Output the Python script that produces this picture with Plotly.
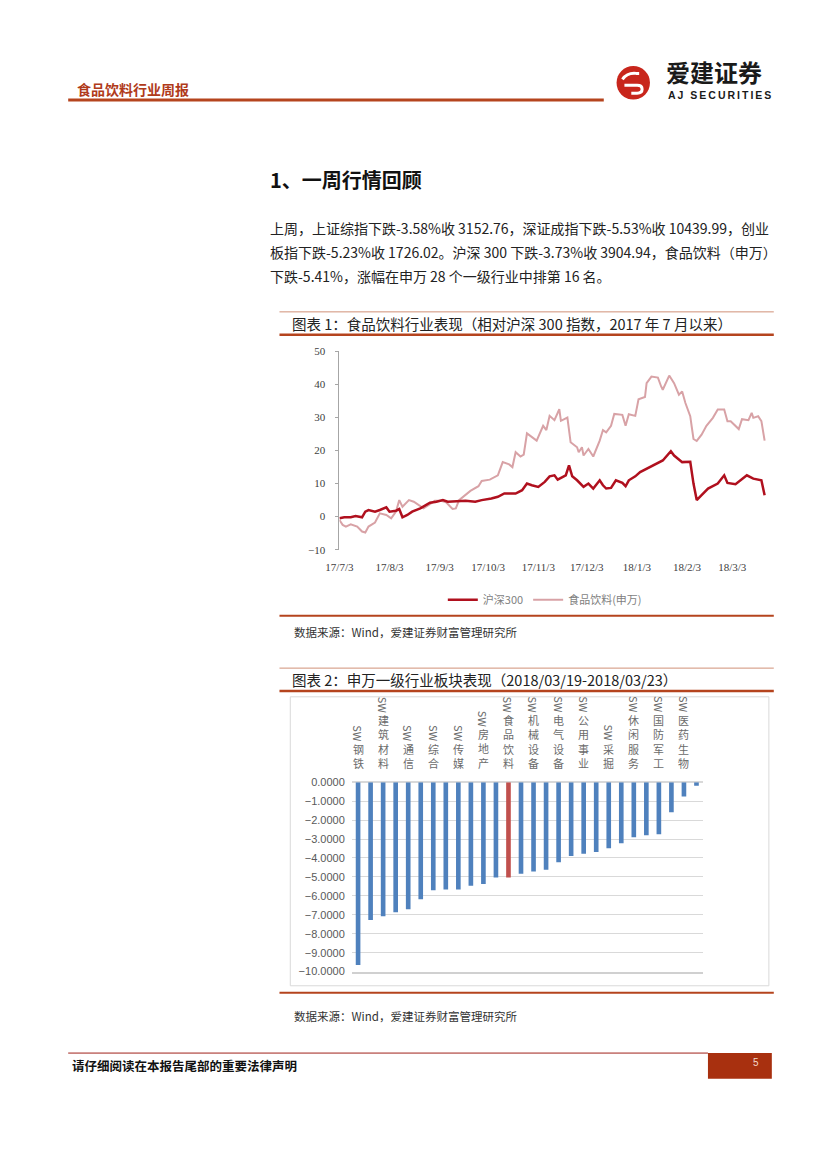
import plotly.graph_objects as go

# ---------------- data ----------------
# Chart 1: relative performance since 2017-07
hs300_dates = ["2017-07-03","2017-07-06","2017-07-10","2017-07-13","2017-07-17","2017-07-19","2017-07-21",
               "2017-07-25","2017-07-28","2017-08-01","2017-08-03","2017-08-07","2017-08-09","2017-08-11",
               "2017-08-14","2017-08-17","2017-08-22","2017-08-28","2017-09-01","2017-09-05","2017-09-08",
               "2017-09-13","2017-09-19","2017-09-25","2017-09-29","2017-10-05","2017-10-09","2017-10-13",
               "2017-10-17","2017-10-20","2017-10-24","2017-10-27","2017-10-30","2017-11-03","2017-11-07",
               "2017-11-10","2017-11-13","2017-11-15","2017-11-20","2017-11-22","2017-11-24","2017-11-27",
               "2017-12-01","2017-12-04","2017-12-07","2017-12-11","2017-12-13","2017-12-15","2017-12-18",
               "2017-12-21","2017-12-25","2017-12-27","2017-12-29","2018-01-02","2018-01-05","2018-01-09",
               "2018-01-12","2018-01-19","2018-01-24","2018-01-26","2018-01-31","2018-02-05","2018-02-07",
               "2018-02-09","2018-02-12","2018-02-16","2018-02-22","2018-02-26","2018-02-28","2018-03-05",
               "2018-03-12","2018-03-16","2018-03-21","2018-03-23"]
hs300_values = [-0.5,-0.2,-0.2,0.2,-0.2,1.5,2.0,
                1.5,2.0,2.8,1.5,1.8,2.3,-0.2,
                0.5,1.5,2.5,4.2,4.5,5.0,4.5,
                4.6,4.8,4.5,5.0,5.5,6.0,7.0,
                6.9,7.0,8.0,10.0,9.5,9.0,10.5,
                12.2,12.5,11.2,12.5,15.5,12.2,11.0,
                9.0,10.0,8.5,11.0,9.5,8.5,8.7,
                11.0,10.2,9.2,11.0,12.2,13.5,14.5,
                15.2,17.0,19.8,18.5,16.5,16.6,10.0,
                5.0,6.5,8.5,10.0,12.5,10.2,9.8,
                12.5,11.5,11.0,6.5]

food_dates = ["2017-07-03","2017-07-05","2017-07-07","2017-07-10","2017-07-14","2017-07-17","2017-07-19",
              "2017-07-21","2017-07-25","2017-07-28","2017-08-01","2017-08-04","2017-08-07","2017-08-09",
              "2017-08-11","2017-08-15","2017-08-18","2017-08-21","2017-08-24","2017-08-28","2017-08-31",
              "2017-09-04","2017-09-07","2017-09-11","2017-09-13","2017-09-15","2017-09-19","2017-09-22",
              "2017-09-27","2017-09-29","2017-10-04","2017-10-09","2017-10-12","2017-10-16","2017-10-18",
              "2017-10-20","2017-10-23","2017-10-25","2017-10-27","2017-10-30","2017-11-02","2017-11-06",
              "2017-11-08","2017-11-10","2017-11-13","2017-11-16","2017-11-17","2017-11-21","2017-11-23",
              "2017-11-27","2017-11-28","2017-11-30","2017-12-01","2017-12-04","2017-12-07","2017-12-11",
              "2017-12-13","2017-12-15","2017-12-18","2017-12-20","2017-12-22","2017-12-25","2017-12-27",
              "2017-12-29","2018-01-02","2018-01-04","2018-01-08","2018-01-09","2018-01-12","2018-01-16",
              "2018-01-18","2018-01-19","2018-01-23","2018-01-26","2018-01-29","2018-01-31","2018-02-02",
              "2018-02-05","2018-02-06","2018-02-07","2018-02-09","2018-02-12","2018-02-15","2018-02-19",
              "2018-02-22","2018-02-26","2018-02-28","2018-03-02","2018-03-07","2018-03-09","2018-03-13",
              "2018-03-15","2018-03-16","2018-03-19","2018-03-21","2018-03-23"]
food_values = [-1.0,-2.5,-3.0,-2.3,-3.0,-4.5,-4.8,
               -3.0,-1.8,1.0,0.5,-0.5,1.5,5.0,
               3.0,5.0,4.5,3.5,2.5,3.8,4.8,
               4.8,4.3,2.3,2.5,5.0,6.5,7.8,
               9.2,10.8,11.2,12.5,16.5,15.8,15.0,
               19.5,18.2,18.8,25.2,24.0,23.0,27.5,
               26.2,30.5,29.2,32.5,29.0,30.0,22.5,
               21.0,19.5,21.0,18.5,20.5,18.2,23.0,
               26.2,25.5,27.5,31.1,31.0,30.8,27.5,
               31.0,30.5,35.5,36.2,40.4,42.4,42.1,
               39.4,38.4,42.7,40.4,36.9,37.9,34.4,
               30.4,26.9,23.5,22.9,24.8,27.5,29.9,
               32.4,32.4,28.9,28.9,26.5,29.5,29.2,
               31.4,29.9,30.4,28.9,23.0]

x1_tick_dates = ["2017-07-03","2017-08-03","2017-09-03","2017-10-03","2017-11-03",
                 "2017-12-03","2018-01-03","2018-02-03","2018-03-03"]
x1_tick_labels = ["17/7/3","17/8/3","17/9/3","17/10/3","17/11/3","17/12/3","18/1/3","18/2/3","18/3/3"]
y1_ticks = [-10, 0, 10, 20, 30, 40, 50]

# Chart 2: SW level-1 industries, weekly change (%), 2018/03/19-2018/03/23
bar_labels = ["SW钢铁","","SW建筑材料","","SW通信","","SW综合","","SW传媒","","SW房地产","",
              "SW食品饮料","","SW机械设备","","SW电气设备","","SW公用事业","","SW采掘","",
              "SW休闲服务","","SW国防军工","","SW医药生物",""]
bar_values = [-9.65,-7.28,-7.07,-6.86,-6.71,-6.18,-5.71,-5.66,-5.66,-5.47,-5.38,-5.03,
              -5.03,-4.83,-4.72,-4.62,-4.22,-3.90,-3.78,-3.68,-3.48,-3.22,
              -2.91,-2.80,-2.75,-1.59,-0.75,-0.19]
highlight = "SW食品饮料"
y2_ticks = [0,-1,-2,-3,-4,-5,-6,-7,-8,-9,-10]

# ---------------- page geometry helpers ----------------
PAGE_W, PAGE_H = 827, 1169
OFF = 8                      # page body margin around the figure
W, H = PAGE_W - 2 * OFF, PAGE_H - 2 * OFF   # figure fits inside the window, no scrollbars
def X(px): return (px - OFF) / W
def Y(py): return 1 - (py - OFF) / H

CJK = "Noto Sans CJK SC"
BROWN = "#B5441E"

fig = go.Figure()

fig.add_trace(go.Scatter(x=food_dates, y=food_values, name="食品饮料(申万)", mode="lines",
                         line=dict(color="#D8A2A6", width=2), xaxis="x", yaxis="y", legendrank=2))
fig.add_trace(go.Scatter(x=hs300_dates, y=hs300_values, name="沪深300", mode="lines",
                         line=dict(color="#B0101E", width=2.5), xaxis="x", yaxis="y", legendrank=1))

bar_pos = list(range(1, len(bar_values) + 1))
bar_colors = ["#C0504D" if lab == highlight else "#4F81BD" for lab in bar_labels]
fig.add_trace(go.Bar(x=bar_pos, y=bar_values, marker=dict(color=bar_colors, line=dict(width=0)),
                     width=0.37, xaxis="x2", yaxis="y2", showlegend=False))

annotations = []
def text(px, py, s, size=12, color="#222222", family=CJK, xanchor="left", **kw):
    annotations.append(dict(x=X(px), y=Y(py), xref="paper", yref="paper", text=s, showarrow=False,
                            xanchor=xanchor, yanchor="middle",
                            font=dict(size=size, color=color, family=family), **kw))

# header
text(62, 84, "<b>食品饮料行业周报</b>", size=14, color="#B03A1A")
text(661, 66, "<b>爱建证券</b>", size=24, color="#1A1A1A")
text(663, 89.5, '<b><span style="letter-spacing:2px">AJ SECURITIES</span></b>', size=10.5,
     color="#1A1A1A", family="Liberation Sans")

# heading and paragraph
text(258, 175, "<b>1、一周行情回顾</b>", size=20, color="#111111")
text(258, 224, "上周，上证综指下跌-3.58%收 3152.76，深证成指下跌-5.53%收 10439.99，创业", size=14)
text(258, 249, "板指下跌-5.23%收 1726.02。沪深 300 下跌-3.73%收 3904.94，食品饮料（申万）", size=14)
text(258, 273, "下跌-5.41%，涨幅在申万 28 个一级行业中排第 16 名。", size=14)

# chart titles and sources
text(281, 321, "图表 1：食品饮料行业表现（相对沪深 300 指数，2017 年 7 月以来）", size=14.5)
text(283, 632, "数据来源：Wind，爱建证券财富管理研究所", size=11.5, color="#333333")
text(281, 680, "图表 2：申万一级行业板块表现（2018/03/19-2018/03/23）", size=14.5)
text(283, 1021, "数据来源：Wind，爱建证券财富管理研究所", size=11.5, color="#333333")

# footer
text(57, 1071, "<b>请仔细阅读在本报告尾部的重要法律声明</b>", size=12.5, color="#111111")
text(755, 1068, "5", size=10, color="#F3D9CC", family="Liberation Sans", xanchor="center")

# bar category labels (SW rotated, Chinese characters stacked upright)
LBL_BOTTOM = 775
LH = 14.3
for pos, lab in zip(bar_pos, bar_labels):
    if not lab:
        continue
    prefix, rest = lab[:2], lab[2:]
    annotations.append(dict(x=pos, xref="x2", y=Y(LBL_BOTTOM), yref="paper", yanchor="bottom",
                            xanchor="center", text="<br>".join(rest), showarrow=False, align="center",
                            font=dict(size=11, color="#6B6B6B", family=CJK)))
    annotations.append(dict(x=pos, xref="x2", y=Y(LBL_BOTTOM - len(rest) * LH - 1), yref="paper",
                            yanchor="bottom", xanchor="center", text=prefix, textangle=90,
                            showarrow=False, font=dict(size=11, color="#6B6B6B", family=CJK)))

shapes = []
def hline(x0, x1, y, color=BROWN, width=1):
    shapes.append(dict(type="line", xref="paper", yref="paper", x0=X(x0), x1=X(x1), y0=Y(y), y1=Y(y),
                       line=dict(color=color, width=width)))

hline(55, 600, 95, BROWN, 3)
hline(270, 773, 309, "#D09078", 1)
hline(270, 773, 332, BROWN, 2.5)
hline(270, 773, 616, BROWN, 2)
hline(270, 773, 669, "#D09078", 1)
hline(270, 773, 692, BROWN, 2.5)
hline(270, 773, 997, BROWN, 2)
hline(55, 706, 1058, "#A0201A", 1)

# inner border of chart 2
shapes.append(dict(type="rect", xref="paper", yref="paper", x0=X(281), x1=X(768), y0=Y(990), y1=Y(698),
                   line=dict(color="#D9D9D9", width=1), fillcolor="rgba(0,0,0,0)", layer="below"))
# page number box
shapes.append(dict(type="rect", xref="paper", yref="paper", x0=X(706), x1=X(771), y0=Y(1084), y1=Y(1058),
                   line=dict(width=0), fillcolor="#A8300F", layer="below"))

# logo: red disc with white swirl
shapes.append(dict(type="circle", xref="paper", yref="paper", x0=X(613), x1=X(647), y0=Y(94.5), y1=Y(60.5),
                   line=dict(width=0), fillcolor="#C8261C"))
def P(px, py): return f"{X(px):.5f},{Y(py):.5f}"
swirl = (f"M {P(619,74)} Q {P(624,67)} {P(633,68)} L {P(636,68)} "
         f"M {P(621,80)} L {P(634,80)} Q {P(639,80)} {P(639,84)} Q {P(639,88)} {P(634,88)} L {P(628,88)}")
shapes.append(dict(type="path", xref="paper", yref="paper", path=swirl,
                   line=dict(color="white", width=3)))

fig.update_layout(
    width=W, height=H, autosize=False,
    margin=dict(l=0, r=0, t=0, b=0),
    paper_bgcolor="white", plot_bgcolor="white",
    font=dict(family=CJK, size=11, color="#333333"),
    xaxis=dict(domain=[X(331), X(766)], anchor="y", type="date",
               range=["2017-07-03", "2018-03-24 10:00"],
               tickmode="array", tickvals=x1_tick_dates, ticktext=x1_tick_labels,
               showgrid=False, zeroline=False, showline=False, ticks="",
               tickfont=dict(family="Liberation Serif", size=11, color="#404040"),
               ticklabelstandoff=9),
    yaxis=dict(domain=[Y(549.3), Y(349)], anchor="x", range=[-10, 50],
               tickmode="array", tickvals=y1_ticks,
               showgrid=False, zeroline=False, showline=True, linecolor="#A6A6A6", linewidth=1,
               ticks="outside", ticklen=3, tickcolor="#A6A6A6",
               tickfont=dict(family="Liberation Serif", size=11, color="#404040"),
               ticklabelstandoff=8),
    xaxis2=dict(domain=[X(343.6), X(700.7)], anchor="y2", range=[0.5, len(bar_values) + 0.5],
                showticklabels=False, showgrid=False, zeroline=False,
                showline=True, linecolor="#D0D0D0", linewidth=1.5, ticks=""),
    yaxis2=dict(domain=[Y(975.7), Y(784.3)], anchor="x2", range=[-10, 0],
                tickmode="array", tickvals=y2_ticks, tickformat=".4f",
                showgrid=True, gridcolor="#D9D9D9", gridwidth=1,
                zeroline=True, zerolinecolor="#D9D9D9", zerolinewidth=1.5,
                showline=False, ticks="",
                tickfont=dict(family="Liberation Sans", size=11, color="#595959"),
                ticklabelstandoff=6),
    bargap=0.63,
    showlegend=True,
    legend=dict(orientation="h", x=X(540), xanchor="center", y=Y(600), yanchor="middle",
                font=dict(size=11, color="#7F7F7F", family=CJK), bgcolor="rgba(0,0,0,0)",
                itemwidth=30, traceorder="normal"),
    annotations=annotations,
    shapes=shapes,
)

fig.write_html("out.html")
